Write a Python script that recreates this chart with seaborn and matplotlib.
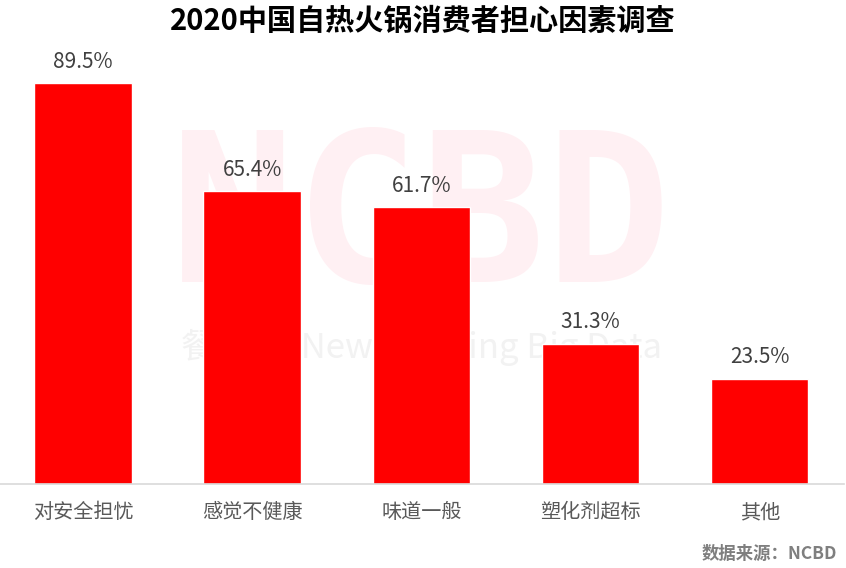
import matplotlib
matplotlib.use("Agg")
import matplotlib.pyplot as plt
import seaborn as sns
import pandas as pd

# data
categories = ["对安全担忧", "感觉不健康", "味道一般", "塑化剂超标", "其他"]
values = [89.5, 65.4, 61.7, 31.3, 23.5]

df = pd.DataFrame({"factor": categories, "share": values})

sns.set_theme(style="white")
plt.rcParams["font.family"] = ["Noto Sans CJK SC", "DejaVu Sans"]

fig = plt.figure(figsize=(8.46, 5.68), dpi=100)
ax = fig.add_axes([-0.002, 0.148, 1.0, 0.789])

# watermark behind the bars
ax.text(0.5, 0.58, "NCBD", transform=ax.transAxes, ha="center", va="center",
        fontsize=150, fontweight="bold", family="DejaVu Sans Mono",
        color="#fff0f3", zorder=0)
ax.text(0.5, 0.305, "餐宝典  New Catering Big Data", transform=ax.transAxes,
        ha="center", va="center", fontsize=25, color="#f2f2f2", zorder=0)

sns.barplot(data=df, x="factor", y="share", color="#ff0000", saturation=1,
            width=0.575, ax=ax, zorder=2)

for i, v in enumerate(values):
    ax.text(i, v + 2.3, f"{v}%", ha="center", va="bottom", fontsize=15,
            color="#404040", zorder=3)

ax.set_xlim(-0.5, 4.5)
ax.set_ylim(0, 100)
ax.set_xlabel("")
ax.set_ylabel("")
ax.set_yticks([])
for side in ["top", "left", "right"]:
    ax.spines[side].set_visible(False)
ax.spines["bottom"].set_color("#d9d9d9")
ax.spines["bottom"].set_linewidth(1.2)
ax.tick_params(axis="x", length=0, pad=13, labelsize=14.5, labelcolor="#595959")

fig.text(0.5, 0.963, "2020中国自热火锅消费者担心因素调查", ha="center", va="center",
         fontsize=21, fontweight="bold", color="black")
fig.text(0.99, 0.025, "数据来源：NCBD", ha="right", va="center",
         fontsize=12.5, fontweight="bold", color="#7f7f7f")

fig.savefig("out.png", dpi=100)
